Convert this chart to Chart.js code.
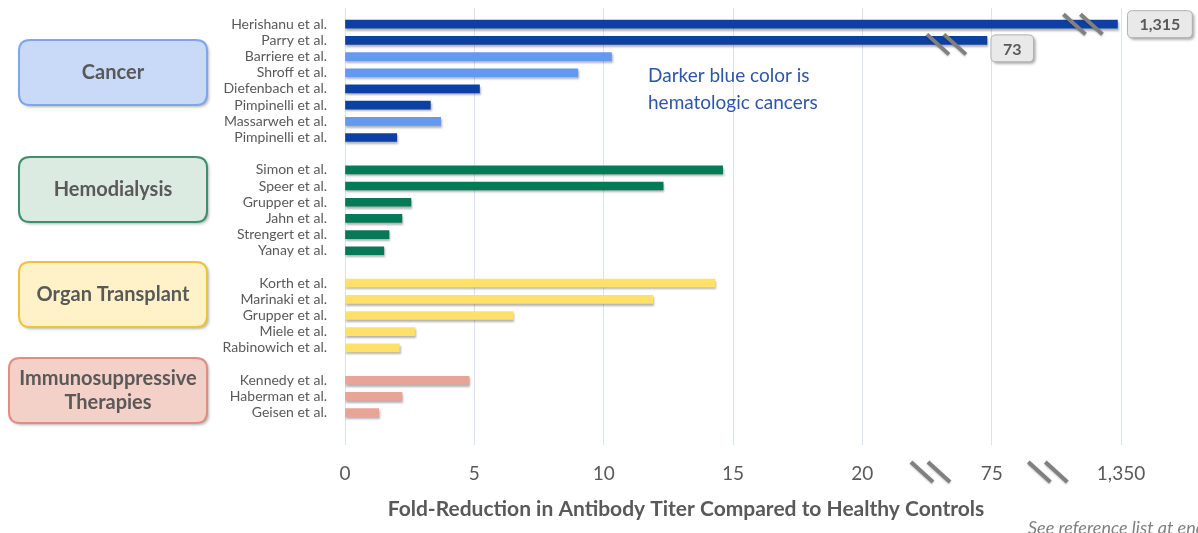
<!DOCTYPE html>
<html>
<head>
<meta charset="utf-8">
<script src="https://cdn.jsdelivr.net/npm/chart.js@4/dist/chart.umd.min.js"></script>
<style>
  html, body { margin: 0; padding: 0; background: #fff; overflow: hidden; }
  #wrap { width: 1198px; height: 533px; position: relative; }
</style>
</head>
<body>
<div id="wrap"><canvas id="titerChart"></canvas></div>
<script>
  // Fold-reduction values per patient group
  const cancerStudies = ["Herishanu et al.", "Parry et al.", "Barriere et al.", "Shroff et al.",
    "Diefenbach et al.", "Pimpinelli et al.", "Massarweh et al.", "Pimpinelli et al."];
  const cancerValues = [1315, 73, 10.3, 9.0, 5.2, 3.3, 3.7, 2.0];
  const cancerHematologic = [true, true, false, false, true, true, false, true];

  const dialysisStudies = ["Simon et al.", "Speer et al.", "Grupper et al.", "Jahn et al.",
    "Strengert et al.", "Yanay et al."];
  const dialysisValues = [14.6, 12.3, 2.55, 2.2, 1.7, 1.5];

  const transplantStudies = ["Korth et al.", "Marinaki et al.", "Grupper et al.", "Miele et al.",
    "Rabinowich et al."];
  const transplantValues = [14.3, 11.9, 6.5, 2.7, 2.1];

  const immunoStudies = ["Kennedy et al.", "Haberman et al.", "Geisen et al."];
  const immunoValues = [4.8, 2.2, 1.3];

  const groupNames = [["Cancer"], ["Hemodialysis"], ["Organ Transplant"], ["Immunosuppressive", "Therapies"]];
  const xTickValues = [0, 5, 10, 15, 20, 75, 1350];

  const colors = {
    hemato: "rgb(12, 64, 162)",
    solid: "rgb(102, 152, 240)",
    dialysis: "rgb(6, 122, 86)",
    transplant: "rgb(255, 224, 104)",
    immuno: "rgb(232, 164, 150)",
  };

  // Broken axis: 0-20 linear, then 20-75 and 75-1350 squeezed into one tick step each
  function toAxis(v) {
    if (v <= 20) return v;
    if (v <= 75) return 20 + ((v - 20) / 55) * 5;
    return 25 + ((v - 75) / 1275) * 5;
  }

  // Build rows with a blank row between groups
  const labels = [""];
  const values = [null];
  const barColors = [null];
  function addGroup(names, vals, colorFn) {
    names.forEach((n, i) => {
      labels.push(n);
      values.push(toAxis(vals[i]));
      barColors.push(colorFn(i));
    });
  }
  addGroup(cancerStudies, cancerValues, (i) => (cancerHematologic[i] ? colors.hemato : colors.solid));
  labels.push(""); values.push(null); barColors.push(null);
  addGroup(dialysisStudies, dialysisValues, () => colors.dialysis);
  labels.push(""); values.push(null); barColors.push(null);
  addGroup(transplantStudies, transplantValues, () => colors.transplant);
  labels.push(""); values.push(null); barColors.push(null);
  addGroup(immunoStudies, immunoValues, () => colors.immuno);
  labels.push("", ""); values.push(null, null); barColors.push(null, null);

  const textGray = "#595959";

  function roundRect(ctx, x, y, w, h, r) {
    ctx.beginPath();
    ctx.moveTo(x + r, y);
    ctx.lineTo(x + w - r, y);
    ctx.quadraticCurveTo(x + w, y, x + w, y + r);
    ctx.lineTo(x + w, y + h - r);
    ctx.quadraticCurveTo(x + w, y + h, x + w - r, y + h);
    ctx.lineTo(x + r, y + h);
    ctx.quadraticCurveTo(x, y + h, x, y + h - r);
    ctx.lineTo(x, y + r);
    ctx.quadraticCurveTo(x, y, x + r, y);
    ctx.closePath();
  }

  function slashPair(ctx, cx, cy) {
    ctx.save();
    ctx.strokeStyle = "#808080";
    ctx.lineWidth = 4;
    ctx.shadowColor = "rgba(0,0,0,0.25)";
    ctx.shadowBlur = 2;
    ctx.shadowOffsetY = 1;
    [-9, 8].forEach((dx) => {
      ctx.beginPath();
      ctx.moveTo(cx + dx - 11, cy - 10);
      ctx.lineTo(cx + dx + 11, cy + 10);
      ctx.stroke();
    });
    ctx.restore();
  }

  function valueBox(ctx, x, cy, text) {
    ctx.save();
    ctx.font = "bold 16px Lato";
    const w = ctx.measureText(text).width + 24;
    const h = 27;
    ctx.shadowColor = "rgba(0,0,0,0.35)";
    ctx.shadowBlur = 3;
    ctx.shadowOffsetX = 2;
    ctx.shadowOffsetY = 2;
    roundRect(ctx, x, cy - h / 2, w, h, 5);
    ctx.fillStyle = "#e9e9e9";
    ctx.fill();
    ctx.shadowColor = "transparent";
    ctx.strokeStyle = "#b0b0b0";
    ctx.lineWidth = 1;
    ctx.stroke();
    ctx.fillStyle = textGray;
    ctx.textAlign = "center";
    ctx.textBaseline = "middle";
    ctx.fillText(text, x + w / 2, cy + 1);
    ctx.restore();
  }

  const groupBoxes = [
    { x: 19, y: 40, w: 188, h: 65, fill: "#c9daf8", stroke: "#7ea6ee" },
    { x: 19, y: 157, w: 188, h: 65, fill: "#dcebe1", stroke: "#3f8f6c" },
    { x: 19, y: 262, w: 188, h: 65, fill: "#fff2c8", stroke: "#efc23c" },
    { x: 9, y: 358, w: 198, h: 65, fill: "#f3d0c8", stroke: "#df8e80" },
  ];

  const annotations = {
    id: "annotations",
    beforeDatasetsDraw(chart) {
      const ctx = chart.ctx;
      ctx.save();
      ctx.shadowColor = "rgba(0,0,0,0.3)";
      ctx.shadowBlur = 2;
      ctx.shadowOffsetX = 1;
      ctx.shadowOffsetY = 2;
    },
    afterDatasetsDraw(chart) {
      chart.ctx.restore();
    },
    afterDraw(chart) {
      const ctx = chart.ctx;
      const xs = chart.scales.x;
      const meta = chart.getDatasetMeta(0);

      // group boxes on the left
      groupBoxes.forEach((b, i) => {
        ctx.save();
        ctx.shadowColor = "rgba(0,0,0,0.3)";
        ctx.shadowBlur = 3;
        ctx.shadowOffsetX = 2;
        ctx.shadowOffsetY = 2;
        roundRect(ctx, b.x, b.y, b.w, b.h, 11);
        ctx.fillStyle = b.fill;
        ctx.fill();
        ctx.shadowColor = "transparent";
        ctx.strokeStyle = b.stroke;
        ctx.lineWidth = 2;
        ctx.stroke();
        ctx.fillStyle = textGray;
        ctx.font = "bold 20px Lato";
        ctx.textAlign = "center";
        ctx.textBaseline = "middle";
        const lines = groupNames[i];
        const cx = b.x + b.w / 2;
        const cy = b.y + b.h / 2;
        lines.forEach((t, j) => {
          ctx.fillText(t, cx, cy + (j - (lines.length - 1) / 2) * 24);
        });
        ctx.restore();
      });

      // broken bars and their labels
      const herishanu = meta.data[1];
      const parry = meta.data[2];
      slashPair(ctx, herishanu.x - 34, herishanu.y);
      slashPair(ctx, parry.x - 40, parry.y + 4);
      valueBox(ctx, herishanu.x + 10, herishanu.y, cancerValues[0].toLocaleString("en-US"));
      valueBox(ctx, parry.x + 4, parry.y + 8, cancerValues[1].toLocaleString("en-US"));

      // axis breaks between tick labels
      const tickY = xs.top + 27;
      slashPair(ctx, (xs.getPixelForValue(toAxis(20)) + xs.getPixelForValue(toAxis(75))) / 2 + 4, tickY);
      slashPair(ctx, (xs.getPixelForValue(toAxis(75)) + xs.getPixelForValue(toAxis(1350))) / 2 - 8, tickY);

      // note
      ctx.save();
      ctx.fillStyle = "#2f55a8";
      ctx.font = "19px Lato";
      ctx.textAlign = "left";
      ctx.textBaseline = "middle";
      ctx.fillText("Darker blue color is", 648, 76);
      ctx.fillText("hematologic cancers", 648, 103);

      // axis title
      ctx.fillStyle = textGray;
      ctx.font = "bold 21px Lato";
      ctx.textAlign = "center";
      ctx.fillText("Fold-Reduction in Antibody Titer Compared to Healthy Controls", 686, 509);

      // footnote (cut by the picture edge, as in the source)
      ctx.fillStyle = "#808080";
      ctx.font = "italic 18px Lato";
      ctx.textAlign = "left";
      ctx.textBaseline = "alphabetic";
      ctx.fillText("See reference list at end", 1028, 534);
      ctx.restore();
    },
  };

  const ctx = document.getElementById("titerChart").getContext("2d");
  new Chart(ctx, {
    type: "bar",
    data: {
      labels: labels,
      datasets: [
        {
          data: values,
          backgroundColor: barColors,
          barThickness: 8,
          borderWidth: 0,
        },
      ],
    },
    options: {
      indexAxis: "y",
      responsive: true,
      maintainAspectRatio: false,
      animation: false,
      layout: { padding: { left: 0, right: 77, top: 8, bottom: 0 } },
      plugins: {
        legend: { display: false },
        tooltip: { enabled: false },
      },
      scales: {
        y: {
          type: "category",
          offset: false,
          grid: { display: false, drawTicks: false },
          border: { display: false },
          ticks: {
            autoSkip: false,
            padding: 18,
            color: textGray,
            font: { family: "Lato", size: 14 },
          },
          afterFit: function (scale) {
            scale.width = 345;
            scale.paddingTop = 0;
            scale.paddingBottom = 0;
          },
        },
        x: {
          type: "linear",
          min: 0,
          max: 30,
          grid: { color: "#dae3f3", drawTicks: false },
          border: { display: false },
          afterBuildTicks: function (scale) {
            scale.ticks = xTickValues.map((v) => ({ value: toAxis(v) }));
          },
          ticks: {
            padding: 17,
            color: textGray,
            font: { family: "Lato", size: 19 },
            callback: function (value, index) {
              return xTickValues[index].toLocaleString("en-US");
            },
          },
          afterFit: function (scale) {
            scale.height = 88;
          },
        },
      },
    },
    plugins: [annotations],
  });
</script>
</body>
</html>
